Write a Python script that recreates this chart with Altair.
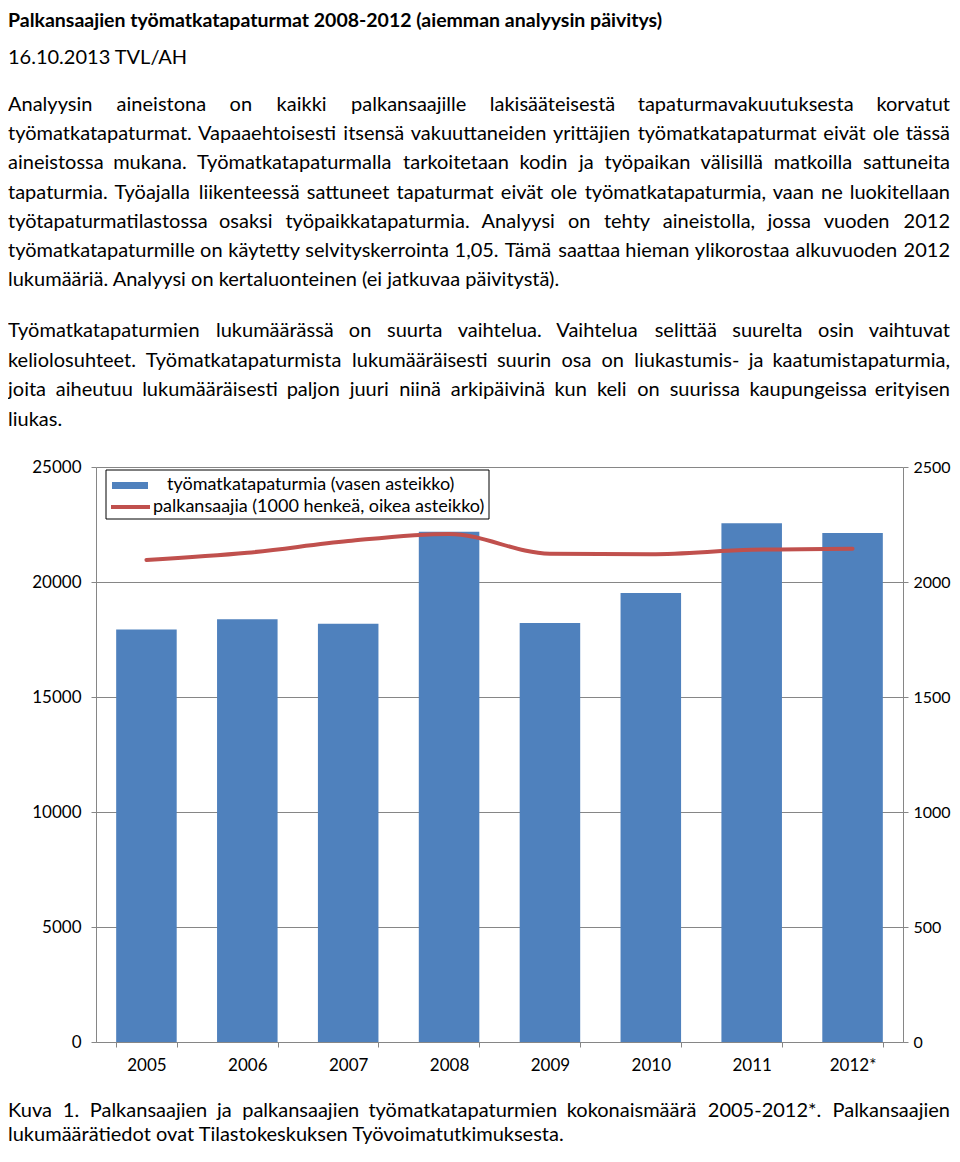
import altair as alt
import pandas as pd

years = ["2005", "2006", "2007", "2008", "2009", "2010", "2011", "2012*"]
accidents = [17930, 18380, 18190, 22190, 18220, 19520, 22550, 22130]
employees = [2096, 2127, 2178, 2209, 2123, 2121, 2140, 2145]

left_ticks = [0, 5000, 10000, 15000, 20000, 25000]
right_ticks = [0, 500, 1000, 1500, 2000, 2500]

title_text = "Palkansaajien työmatkatapaturmat 2008-2012 (aiemman analyysin päivitys)"
date_text = "16.10.2013 TVL/AH"
para1 = [
    "Analyysin aineistona on kaikki palkansaajille lakisääteisestä tapaturmavakuutuksesta korvatut",
    "työmatkatapaturmat. Vapaaehtoisesti itsensä vakuuttaneiden yrittäjien työmatkatapaturmat eivät ole tässä",
    "aineistossa mukana. Työmatkatapaturmalla tarkoitetaan kodin ja työpaikan välisillä matkoilla sattuneita",
    "tapaturmia. Työajalla liikenteessä sattuneet tapaturmat eivät ole työmatkatapaturmia, vaan ne luokitellaan",
    "työtapaturmatilastossa osaksi työpaikkatapaturmia. Analyysi on tehty aineistolla, jossa vuoden 2012",
    "työmatkatapaturmille on käytetty selvityskerrointa 1,05. Tämä saattaa hieman ylikorostaa alkuvuoden 2012",
    "lukumääriä. Analyysi on kertaluonteinen (ei jatkuvaa päivitystä).",
]
para2 = [
    "Työmatkatapaturmien lukumäärässä on suurta vaihtelua. Vaihtelua selittää suurelta osin vaihtuvat",
    "keliolosuhteet. Työmatkatapaturmista lukumääräisesti suurin osa on liukastumis- ja kaatumistapaturmia,",
    "joita aiheutuu lukumääräisesti paljon juuri niinä arkipäivinä kun keli on suurissa kaupungeissa erityisen",
    "liukas.",
]
caption = [
    "Kuva 1. Palkansaajien ja palkansaajien työmatkatapaturmien kokonaismäärä 2005-2012*. Palkansaajien",
    "lukumäärätiedot ovat Tilastokeskuksen Työvoimatutkimuksesta.",
]
legend_labels = ["työmatkatapaturmia (vasen asteikko)", "palkansaajia (1000 henkeä, oikea asteikko)"]

FONT = "Lato"
BLUE = "#4F81BD"
RED = "#C0504D"
GRAY = "#868686"

# page position of the plot origin
PX, PY = 96, 467
SVG_W, SVG_H = 944, 1140
TEXT_L, TEXT_R = 8, 950
BODY = 20

# approximate Lato advance widths (em), used only to justify text lines
LATO = {" ": 0.193, "a": 0.47, "b": 0.54, "c": 0.45, "d": 0.54, "e": 0.50, "f": 0.32,
        "g": 0.49, "h": 0.54, "i": 0.235, "j": 0.235, "k": 0.495, "l": 0.235, "m": 0.81,
        "n": 0.54, "o": 0.55, "p": 0.54, "r": 0.365, "s": 0.41, "t": 0.34, "u": 0.54,
        "v": 0.485, "w": 0.74, "y": 0.485, "z": 0.44, "ä": 0.47, "ö": 0.55,
        "A": 0.68, "K": 0.65, "P": 0.59, "T": 0.56, "V": 0.68, "Y": 0.63,
        ".": 0.21, ",": 0.21, "-": 0.33, "*": 0.40, "(": 0.30, ")": 0.30}


def est_width(s, size):
    return sum(LATO.get(c, 0.58 if c.isdigit() else 0.55) for c in s) * size * 1.03


df = pd.DataFrame({"year": years, "accidents": accidents, "employees": employees})

x_enc = alt.X(
    "year:N", sort=years, title=None,
    scale=alt.Scale(paddingInner=0.4, paddingOuter=0.2),
    axis=alt.Axis(labelAngle=0, tickBand="extent", labelPadding=10, domainColor=GRAY,
                  tickColor=GRAY, tickSize=5),
)

bars = alt.Chart(df).mark_bar(color=BLUE).encode(
    x=x_enc,
    y=alt.Y("accidents:Q", title=None, scale=alt.Scale(domain=[0, 25000]),
            axis=alt.Axis(values=left_ticks, grid=True, gridColor=GRAY, labelPadding=10,
                          format="d", domainColor=GRAY, tickColor=GRAY, tickSize=5)),
)

line = alt.Chart(df).mark_line(color=RED, strokeWidth=4, interpolate="monotone", strokeCap="round").encode(
    x=alt.X("year:N", sort=years),
    y=alt.Y("employees:Q", title=None, scale=alt.Scale(domain=[0, 2500]),
            axis=alt.Axis(orient="right", values=right_ticks, grid=False, labelPadding=5,
                          labelFontSize=16, format="d", domainColor=GRAY, tickColor=GRAY,
                          tickSize=5)),
)

one = pd.DataFrame({"k": [0]})

legend_box = alt.Chart(one).mark_rect(fill="white", stroke="black", strokeWidth=1).encode(
    x=alt.value(10), x2=alt.value(393), y=alt.value(3), y2=alt.value(52))
legend_sw1 = alt.Chart(one).mark_rect(color=BLUE).encode(
    x=alt.value(16), x2=alt.value(52), y=alt.value(15), y2=alt.value(22))
legend_sw2 = alt.Chart(one).mark_rule(color=RED, strokeWidth=4).encode(
    x=alt.value(15), x2=alt.value(54), y=alt.value(40))


def text_line(s, px, py, size=BODY, bold=False, align="left"):
    return alt.Chart(pd.DataFrame({"t": [s]})).mark_text(
        align=align, baseline="middle", fontSize=size, font=FONT,
        fontWeight="bold" if bold else "normal", color="black",
    ).encode(x=alt.value(px - PX), y=alt.value(py - PY), text="t:N")


def body_line(s, py, justify, size=BODY):
    words = s.split(" ")
    if justify and len(words) > 1:
        widths = [est_width(w, size) for w in words]
        gap = (TEXT_R - TEXT_L - sum(widths)) / (len(words) - 1)
        if gap >= LATO[" "] * size:
            out = []
            x = TEXT_L
            for k, (w, wd) in enumerate(zip(words, widths)):
                if k == len(words) - 1:
                    out.append(text_line(w, TEXT_R, py, size, align="right"))
                else:
                    out.append(text_line(w, x, py, size))
                x += wd + gap
            return out
    return [text_line(s, TEXT_L, py, size)]


texts = [
    text_line(legend_labels[0], 167, 485, size=18),
    text_line(legend_labels[1], 153, 507, size=18),
    text_line(title_text, TEXT_L, 21, size=19.5, bold=True),
    text_line(date_text, TEXT_L, 58),
]
for i, s in enumerate(para1):
    texts += body_line(s, 105 + 29.2 * i, i < len(para1) - 1)
for i, s in enumerate(para2):
    texts += body_line(s, 331 + 29.6 * i, i < len(para2) - 1)
for i, s in enumerate(caption):
    texts += body_line(s, 1111 + 24 * i, i < len(caption) - 1)

chart = alt.layer(
    bars, line, legend_box, legend_sw1, legend_sw2, *texts
).resolve_scale(y="independent").properties(
    width=807, height=575, autosize="none",
    padding={"left": PX - 8, "top": PY - 8,
             "right": SVG_W - (PX - 8) - 807, "bottom": SVG_H - (PY - 8) - 575},
).configure_view(strokeWidth=0).configure_axis(
    labelFont=FONT, labelFontSize=17, labelColor="black",
)

chart.save("out.html", embed_options={"renderer": "svg", "actions": False})
